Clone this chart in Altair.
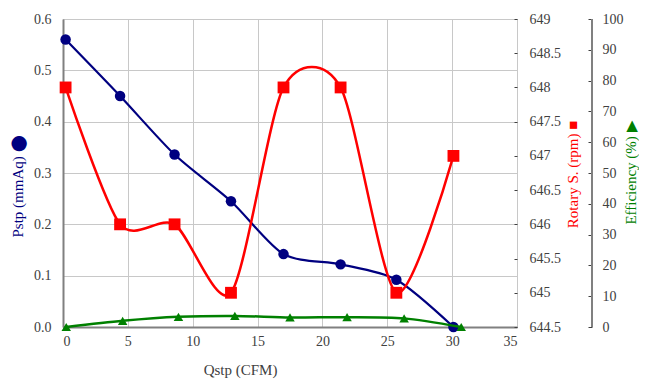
import altair as alt
import pandas as pd

# Data
q_p = [0.2, 4.4, 8.6, 12.95, 17.0, 21.4, 25.7, 30.1]
pstp = [0.56, 0.45, 0.336, 0.245, 0.142, 0.122, 0.092, 0.0]

q_r = [0.2, 4.4, 8.6, 12.95, 17.0, 21.4, 25.7, 30.1]
rpm = [648.0, 646.0, 646.0, 645.0, 648.0, 648.0, 645.0, 647.0]

q_e = [0.25, 4.6, 8.9, 13.25, 17.5, 21.9, 26.3, 30.7]
eff = [0.0, 2.0, 3.3, 3.6, 3.1, 3.2, 2.8, 0.0]

x_ticks = [0, 5, 10, 15, 20, 25, 30, 35]
p_ticks = [0, 0.1, 0.2, 0.3, 0.4, 0.5, 0.6]
r_ticks = [644.5, 645, 645.5, 646, 646.5, 647, 647.5, 648, 648.5, 649]
e_ticks = [0, 10, 20, 30, 40, 50, 60, 70, 80, 90, 100]

W, H = 454, 308
FONT = "Liberation Serif"
LBL = "#404040"
AX = "#808080"

df_p = pd.DataFrame({"q": q_p, "v": pstp})
df_r = pd.DataFrame({"q": q_r, "v": rpm})
df_e = pd.DataFrame({"q": q_e, "v": eff})

x_enc = alt.X(
    "q:Q",
    scale=alt.Scale(domain=[0, 35], nice=False),
    axis=alt.Axis(
        values=x_ticks, format="d", title="Qstp (CFM)", grid=True,
        gridColor="#c8c8c8", ticks=False, domainColor=AX, domainWidth=2,
        labelPadding=7, titleX=177, titleY=42, titleBaseline="middle",
        titleAnchor="start", titleAlign="center",
    ),
)

blue = alt.Chart(df_p).mark_line(
    color="#000080", strokeWidth=2.2, interpolate="cardinal", tension=0.2,
    point=alt.OverlayMarkDef(shape="circle", size=110, filled=True, color="#000080", opacity=1),
).encode(
    x=x_enc,
    y=alt.Y(
        "v:Q",
        scale=alt.Scale(domain=[0, 0.6], nice=False, zero=False),
        axis=alt.Axis(
            orient="left", values=p_ticks, format=".1f", title="Pstp (mmAq) ⬤",
            grid=True, gridColor="#c8c8c8", ticks=False, domainColor=AX, domainWidth=2,
            labelPadding=12, titleColor="#000080", titleAngle=270,
            titleX=-46, titleY=167, titleAlign="center", titleBaseline="middle",
        ),
    ),
)

red = alt.Chart(df_r).mark_line(
    color="#ff0000", strokeWidth=2.5, interpolate="cardinal", tension=0.2,
    point=alt.OverlayMarkDef(shape="square", size=140, filled=True, color="#ff0000", opacity=1),
).encode(
    x=alt.X("q:Q"),
    y=alt.Y(
        "v:Q",
        scale=alt.Scale(domain=[644.5, 649], nice=False, zero=False),
        axis=alt.Axis(
            orient="right", values=r_ticks, format="~f", title="Rotary S. (rpm) ■",
            grid=False, domain=False, offset=-3, tickSize=3, tickColor="#404040",
            labelPadding=12, titleColor="#ff0000", titleAngle=270,
            titleX=58, titleY=155, titleAlign="center", titleBaseline="middle",
        ),
    ),
)

green = alt.Chart(df_e).mark_line(
    color="#008000", strokeWidth=2.5, interpolate="cardinal", tension=0.2,
    point=alt.OverlayMarkDef(shape="triangle-up", size=90, filled=True, color="#008000", opacity=1),
).encode(
    x=alt.X("q:Q"),
    y=alt.Y(
        "v:Q",
        scale=alt.Scale(domain=[0, 100], nice=False),
        axis=alt.Axis(
            orient="right", values=e_ticks, format="d", title="Efficiency (%) ▶",
            grid=False, domain=False, offset=71, tickSize=4, tickColor="#404040",
            labelPadding=10, titleColor="#008000", titleAngle=270,
            titleX=42, titleY=153, titleAlign="center", titleBaseline="middle",
        ),
    ),
)

eff_line = alt.Chart(pd.DataFrame({"k": [0]})).mark_rule(
    color=AX, strokeWidth=2
).encode(x=alt.value(W + 75), y=alt.value(0), y2=alt.value(H))

chart = alt.layer(blue, red, green, eff_line).resolve_scale(
    y="independent"
).properties(
    width=W, height=H,
    background="white",
    autosize=alt.AutoSizeParams(type="none"),
    padding={"left": 55, "top": 11, "right": 122, "bottom": 55},
).configure_view(
    stroke=AX, strokeWidth=1
).configure_axis(
    labelFont=FONT, labelFontSize=14, labelColor=LBL,
    titleFont=FONT, titleFontSize=15, titleFontWeight="normal", titleColor=LBL,
)

chart.save("out.html", embed_options={"renderer": "svg", "actions": False})
